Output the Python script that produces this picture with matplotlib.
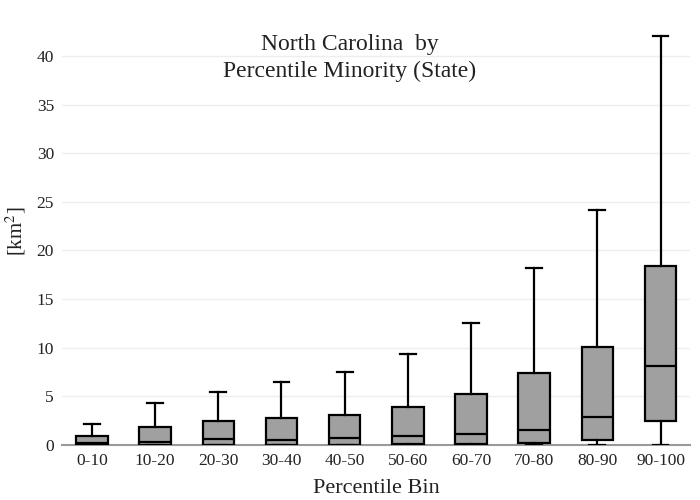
import matplotlib
matplotlib.use("Agg")
import matplotlib.pyplot as plt

categories = ["0-10", "10-20", "20-30", "30-40", "40-50", "50-60", "60-70", "70-80", "80-90", "90-100"]
lower_whisker = [0, 0, 0, 0, 0, 0, 0, 0, 0, 0]
q1 = [0.05, 0.05, 0.05, 0.05, 0.05, 0.08, 0.1, 0.2, 0.5, 2.45]
median = [0.2, 0.3, 0.6, 0.55, 0.7, 0.9, 1.1, 1.5, 2.9, 8.1]
q3 = [0.9, 1.85, 2.45, 2.75, 3.1, 3.9, 5.25, 7.4, 10.05, 18.4]
upper_whisker = [2.2, 4.3, 5.5, 6.5, 7.5, 9.35, 12.55, 18.2, 24.2, 42.05]

plt.rcParams['font.family'] = ['Liberation Serif', 'DejaVu Serif']
plt.rcParams['mathtext.fontset'] = 'stix'

fig = plt.figure(figsize=(7, 5), dpi=100)
ax = fig.add_axes([0.089, 0.11, 0.897, 0.856])

stats = []
for i, c in enumerate(categories):
    stats.append(dict(label=c, whislo=lower_whisker[i], q1=q1[i], med=median[i],
                      q3=q3[i], whishi=upper_whisker[i], fliers=[]))

ax.bxp(stats, positions=range(len(categories)), widths=0.5, patch_artist=True,
       showfliers=False,
       boxprops=dict(facecolor='#a0a0a0', edgecolor='black', linewidth=1.6, zorder=3),
       medianprops=dict(color='black', linewidth=1.6, zorder=4),
       whiskerprops=dict(color='black', linewidth=1.6, zorder=3),
       capprops=dict(color='black', linewidth=1.6, zorder=4),
       capwidths=0.25)

ax.set_xlim(-0.47, 9.47)
ax.set_ylim(0, 44)
ax.set_yticks(range(0, 45, 5))
ax.grid(axis='y', color='#eeeeee', linewidth=1)
ax.set_axisbelow(True)
for s in ['top', 'right', 'left']:
    ax.spines[s].set_visible(False)
ax.spines['bottom'].set_color('#999999')
ax.spines['bottom'].set_linewidth(1.5)
ax.spines['bottom'].set_zorder(1)
ax.tick_params(axis='both', length=0, labelsize=12.5, pad=6, colors='#222222')
ax.set_xticks(range(len(categories)))
ax.set_xticklabels(categories)

ax.set_xlabel("Percentile Bin", fontsize=16, labelpad=7, color='#222222')
ax.set_ylabel("[km$^2$]", fontsize=15, color='#222222')
ax.yaxis.set_label_coords(-0.054, 0.5)

fig.text(0.5, 0.884, "North Carolina  by\nPercentile Minority (State)", ha='center', va='center',
         fontsize=17, linespacing=1.4, color='#222222')

fig.savefig("out.png", dpi=100)
